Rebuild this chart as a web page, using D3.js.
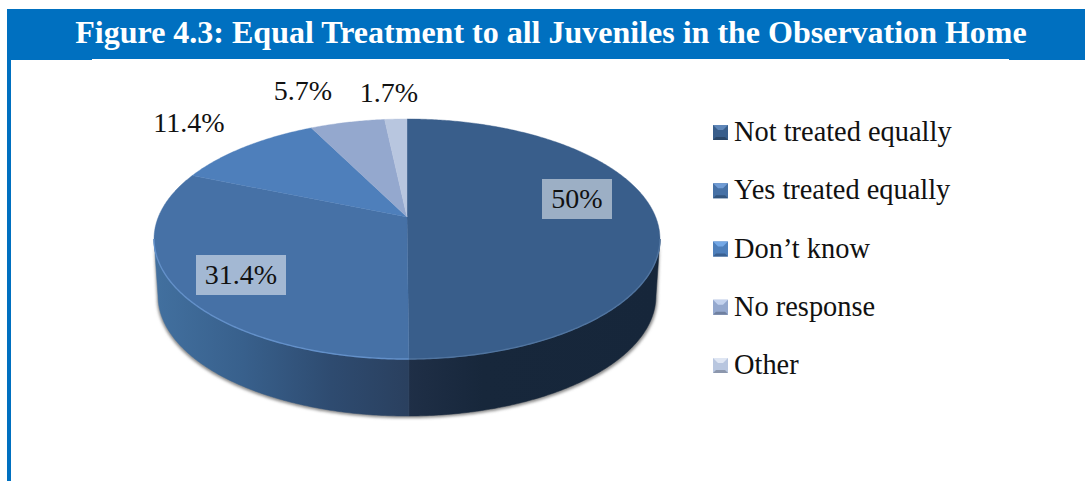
<!DOCTYPE html>
<html>
<head>
<meta charset="utf-8">
<title>Equal Treatment to all Juveniles in the Observation Home</title>
<script src="https://cdn.jsdelivr.net/npm/d3@7/dist/d3.min.js"></script>
<style>
  html, body { margin: 0; padding: 0; background: #fff; }
  svg { display: block; }
  text { font-family: "Liberation Serif", serif; fill: #111; }
</style>
</head>
<body>
<svg id="chart" width="1085" height="481"></svg>
<script>
// Chart content
const titleText = "Figure 4.3: Equal Treatment to all Juveniles in the Observation Home";
const categories = ["Not treated equally", "Yes treated equally", "Don\u2019t know", "No response", "Other"];
const shares = [50, 31.4, 11.4, 5.7, 1.7];
const shareLabels = ["50%", "31.4%", "11.4%", "5.7%", "1.7%"];

// Appearance of each slice and legend key
const topColors = ["#395e8b", "#4671a6", "#4e7fbb", "#94a8ce", "#b8c6df"];
const keyLight = ["#5f86b8", "#6f9bd4", "#74a8e6", "#c3d2ee", "#dfe6f3"];
const keyDark = ["#2b4768", "#33567f", "#3a6192", "#6f80a0", "#8c97ad"];

// Where each value label sits, and which ones carry a pale box
const labelCentres = [[577, 198], [241, 274], [189, 122], [303, 90], [389, 92]];
const labelBoxes = [{w: 70, h: 40, dy: 1}, {w: 90, h: 40, dy: 1}, null, null, null];

const svg = d3.select("#chart");
const defs = svg.append("defs");

// Header band and the rule running down the left side
const blue = "#0070c0";
svg.append("rect").attr("x", 7).attr("y", 9).attr("width", 1078).attr("height", 50).attr("fill", blue);
svg.append("rect").attr("x", 7).attr("y", 59).attr("width", 85).attr("height", 1).attr("fill", blue);
svg.append("rect").attr("x", 1009).attr("y", 59).attr("width", 76).attr("height", 1).attr("fill", blue);
svg.append("rect").attr("x", 7).attr("y", 9).attr("width", 4).attr("height", 472).attr("fill", blue);
svg.append("text")
  .attr("x", 551).attr("y", 43)
  .attr("text-anchor", "middle")
  .attr("font-size", 32)
  .attr("font-weight", "bold")
  .style("fill", "#fff")
  .text(titleText);

// Perspective view of a round disc: u runs right, v runs towards the viewer
const view = {cx: 407, cy: 217, R: 248.7, S: 116, k: 0.1833, depth: 57, baseScale: 0.984};
function project(angle, lower) {
  const u = Math.sin(angle), v = -Math.cos(angle);
  const w = 1 - view.k * v;
  const sx = lower ? view.baseScale : 1;
  return [view.cx + sx * view.R * u / w,
          view.cy + view.S * v / w + (lower ? view.depth : 0)];
}
function rim(a0, a1, lower) {
  const n = Math.max(2, Math.ceil(Math.abs(a1 - a0) / 0.01));
  return d3.range(n + 1).map(i => project(a0 + (a1 - a0) * i / n, lower));
}
const line = d3.line();

const arcs = d3.pie().sort(null).value(d => d).startAngle(0).endAngle(2 * Math.PI)(shares);

// Part of the rim that faces the viewer
const frontStart = Math.acos(-view.k);
const frontEnd = 2 * Math.PI - frontStart;

// Horizontal shading of the wall, one gradient per visible slice
const wallStops = [
  [["0%", "#1f2f47"], ["30%", "#17273b"], ["100%", "#16263a"]],
  [["0%", "#42709f"], ["35%", "#38608c"], ["70%", "#2e4b70"], ["100%", "#2a405f"]]
];
wallStops.forEach((stops, i) => {
  const g = defs.append("linearGradient")
    .attr("id", "wall" + i)
    .attr("gradientUnits", "userSpaceOnUse");
  if (i === 0) g.attr("x1", view.cx).attr("x2", 660);
  else g.attr("x1", 155).attr("x2", view.cx);
  g.attr("y1", 0).attr("y2", 0);
  g.selectAll("stop").data(stops).join("stop")
    .attr("offset", d => d[0]).attr("stop-color", d => d[1]);
});

// Soft shadow hugging the lower edge of the wall
defs.append("filter").attr("id", "soft")
  .attr("x", "-5%").attr("y", "-5%").attr("width", "110%").attr("height", "110%")
  .append("feGaussianBlur").attr("stdDeviation", 1.4);

const pie = svg.append("g");
pie.append("path")
  .attr("d", line(rim(frontStart, frontEnd, true)
    .map(p => [p[0] + (p[0] < view.cx ? -1 : 1.5), p[1] + 2]).concat(rim(frontEnd, frontStart, false))) + "Z")
  .attr("fill", "#8a8a8a")
  .attr("filter", "url(#soft)");

// Wall of the disc for the slices that reach the front
arcs.forEach((a, i) => {
  const start = Math.max(a.startAngle, frontStart);
  const end = Math.min(a.endAngle, frontEnd);
  if (end <= start) return;
  pie.append("path")
    .attr("d", line(rim(start, end, false).concat(rim(end, start, true))) + "Z")
    .attr("fill", `url(#wall${i})`)
    .attr("stroke", `url(#wall${i})`)
    .attr("stroke-width", 0.5);
});

// Top face
pie.selectAll("path.slice").data(arcs).join("path")
  .attr("class", "slice")
  .attr("d", a => line([[view.cx, view.cy]].concat(rim(a.startAngle, a.endAngle, false))) + "Z")
  .attr("fill", (a, i) => topColors[i])
  .attr("stroke", (a, i) => topColors[i])
  .attr("stroke-width", 0.4);

// Thin bevel along the near edge of the top face
arcs.slice(0, 2).forEach((a, i) => {
  const start = Math.max(a.startAngle, frontStart);
  const end = Math.min(a.endAngle, frontEnd);
  pie.append("path")
    .attr("d", line(rim(start, end, false)))
    .attr("fill", "none")
    .attr("stroke", i === 0 ? "#50749f" : "#6390c9")
    .attr("stroke-width", 1.4);
});

// Value labels
const labels = svg.append("g").selectAll("g").data(shareLabels).join("g")
  .attr("transform", (d, i) => `translate(${labelCentres[i]})`);
labels.filter((d, i) => labelBoxes[i]).append("rect")
  .each(function (d) {
    const b = labelBoxes[shareLabels.indexOf(d)];
    d3.select(this).attr("x", -b.w / 2).attr("y", -b.h / 2 + b.dy).attr("width", b.w).attr("height", b.h);
  })
  .attr("fill", "#fff").attr("fill-opacity", 0.5);
labels.append("text")
  .attr("text-anchor", "middle")
  .attr("y", 10)
  .attr("font-size", 28)
  .text(d => d);

// Legend with bevelled square keys
const keySize = 15, bevel = 5;
const legendY = d3.scalePoint().domain(categories).range([125, 358]);
const legend = svg.append("g").selectAll("g").data(categories).join("g")
  .attr("transform", d => `translate(713,${legendY(d)})`);
legend.append("rect").attr("width", keySize).attr("height", keySize)
  .attr("fill", (d, i) => topColors[i]);
legend.append("path")
  .attr("d", line([[0, 0], [keySize, 0], [keySize - bevel, bevel], [bevel, bevel]]) + "Z")
  .attr("fill", (d, i) => keyLight[i]);
legend.append("path")
  .attr("d", line([[0, keySize], [keySize, keySize], [keySize - 3, keySize - 3], [3, keySize - 3]]) + "Z")
  .attr("fill", (d, i) => keyDark[i]);
legend.append("text")
  .attr("x", 21)
  .attr("y", 16)
  .attr("font-size", 28.4)
  .text(d => d);
</script>
</body>
</html>
